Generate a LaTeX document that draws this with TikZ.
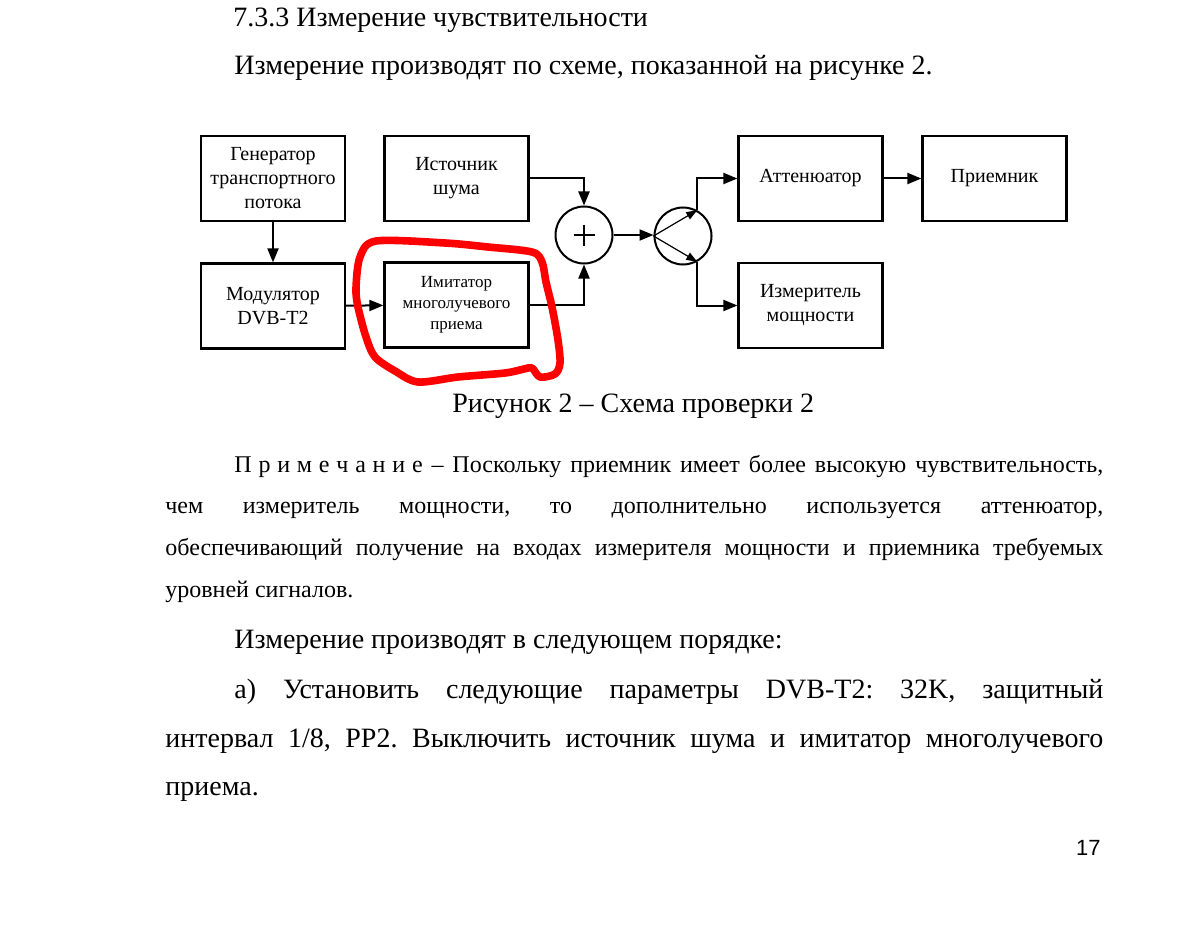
\documentclass[tikz,border=0pt]{standalone}
\usepackage{fontspec}
\setmainfont{Liberation Serif}
\newfontfamily\pagesans{Liberation Sans}
\usetikzlibrary{arrows.meta}
\frenchspacing
\begin{document}
\begin{tikzpicture}[x=0.5pt,y=-0.5pt,
 blk/.style={draw, line width=1.1pt, minimum width=72pt, minimum height=42.5pt, inner sep=0pt, align=center, font=\fontsize{10}{12}\selectfont},
 sm/.style={draw, circle, line width=1pt, minimum size=28.5pt, inner sep=0pt},
 wire/.style={line width=1pt, -{Triangle[length=7pt,width=5.5pt]}},
 thinarr/.style={line width=0.6pt, -{Triangle[length=5.5pt,width=4pt]}},
 big/.style={font=\fontsize{14}{16}\selectfont, inner sep=0pt, anchor=base west},
 note/.style={font=\fontsize{12}{14}\selectfont, inner sep=0pt, anchor=base west}]

\fill[white] (0,0) rectangle (1181,925);
\useasboundingbox (0,0) rectangle (1181,925);

\node[big] (h1) at (233,27) {7.3.3 Измерение чувствительности};
\node[big] (h2) at (234,75) {Измерение производят по схеме, показанной на рисунке 2.};

\node[blk] (gen) at (273,178.5) {Генератор\\транспортного\\потока};
\node[blk] (noise) at (456.5,178.5) {Источник\\шума};
\node[blk] (mod) at (273,306) {Модулятор\\DVB-T2};
\node[blk, font=\fontsize{8.5}{10.5}\selectfont] (imit) at (456.5,305) {Имитатор\\многолучевого\\приема};
\node[sm] (sum) at (584,235) {};
\node[sm] (spl) at (683,236) {};
\node[blk] (att) at (810.5,178.5) {Аттенюатор};
\node[blk] (meter) at (810.5,305.5) {Измеритель\\мощности};
\node[blk] (rx) at (994.5,178.5) {Приемник};

\draw[line width=1pt] (sum.center) ++(-10.5,0) -- ++(21,0);
\draw[line width=1pt] (sum.center) ++(0,-10.5) -- ++(0,21);

\draw[wire] (gen) -- (mod);
\draw[wire] (mod) -- (imit);
\draw[wire] (imit.east) -| (sum.south);
\draw[wire] (noise.east) -| (sum.north);
\draw[wire] (sum.east) -- (sum.east -| spl.west);
\draw[thinarr] (spl.west) -- (spl.61);
\draw[thinarr] (spl.west) -- (spl.-61);
\draw[wire] (spl.61) |- (att.west);
\draw[wire] (spl.-61) |- (meter.west);
\draw[wire] (att) -- (rx);

\draw[red, line width=3.8pt, line join=round] plot[smooth cycle, tension=0.5] coordinates {(376,241) (445,243) (488,247) (532,252) (542,262) (546,282) (552,307) (558,340) (560,363) (555,374) (540,377) (532,368) (524,369) (505,373) (458,377) (418,382) (395,371) (375,357) (366,337) (358,307) (356,288) (360,257)};

\node[big] (cap) at (452,412) {Рисунок 2 – Схема проверки 2};

\node[note] (n1) at (234,472) {\makebox[434.5pt][s]{П\kern3.4ptр\kern3.4ptи\kern3.4ptм\kern3.4ptе\kern3.4ptч\kern3.4ptа\kern3.4ptн\kern3.4ptи\kern3.4ptе – Поскольку приемник имеет более высокую чувствительность,}};
\node[note] (n2) at (165,513) {\makebox[469pt][s]{чем измеритель мощности, то дополнительно используется аттенюатор,}};
\node[note] (n3) at (165,555) {\makebox[469pt][s]{обеспечивающий получение на входах измерителя мощности и приемника требуемых}};
\node[note] (n4) at (165,597) {уровней сигналов.};

\node[big] (b1) at (234,648) {Измерение производят в следующем порядке:};
\node[big] (b2) at (234,698) {\makebox[434.5pt][s]{а) Установить следующие параметры DVB-T2: 32K, защитный}};
\node[big] (b3) at (165,747) {\makebox[469pt][s]{интервал 1/8, PP2. Выключить источник шума и имитатор многолучевого}};
\node[big] (b4) at (165,795) {приема.};

\node[font=\pagesans\fontsize{11}{13}\selectfont, inner sep=0pt, anchor=base east] (pg) at (1101,855) {17};
\end{tikzpicture}
\end{document}
